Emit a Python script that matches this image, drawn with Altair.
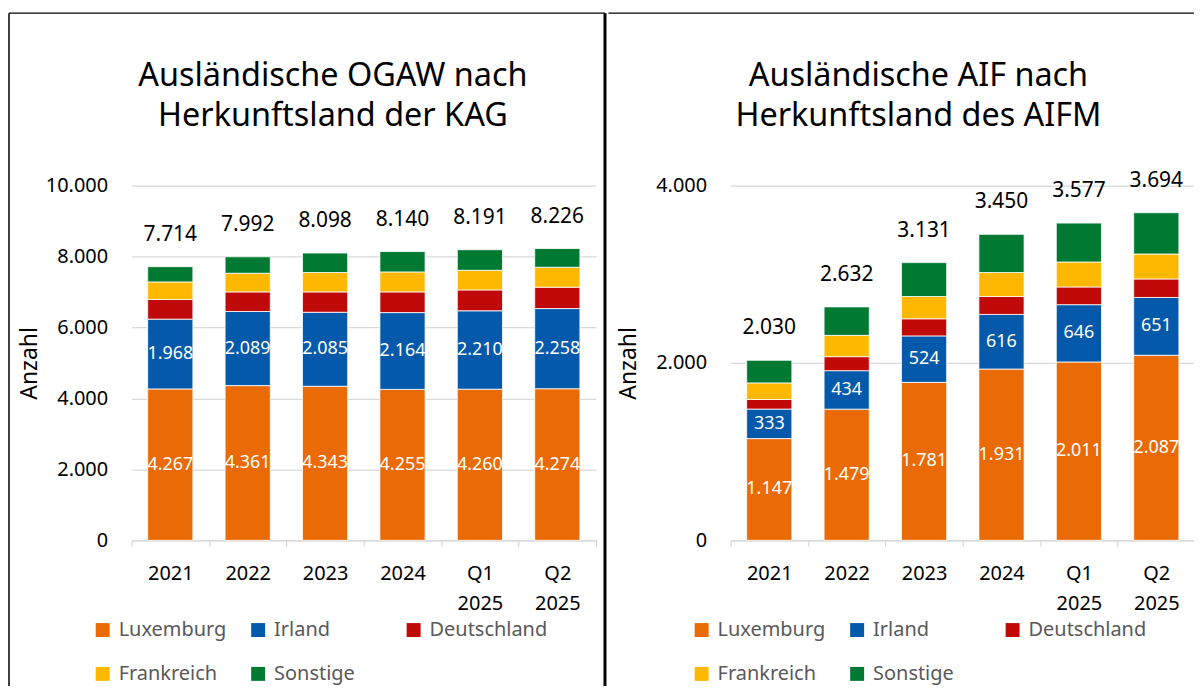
import altair as alt
import pandas as pd

cats = ["2021", "2022", "2023", "2024", "Q1 2025", "Q2 2025"]
series = ["Luxemburg", "Irland", "Deutschland", "Frankreich", "Sonstige"]
colors = ["#EA6A05", "#0459AA", "#C00A0A", "#FFB800", "#007A33"]

ogaw_luxemburg = [4267, 4361, 4343, 4255, 4260, 4274]
ogaw_irland = [1968, 2089, 2085, 2164, 2210, 2258]
ogaw_deutschland = [554, 553, 575, 584, 589, 603]
ogaw_frankreich = [495, 525, 545, 562, 553, 562]
ogaw_sonstige = [430, 464, 550, 575, 579, 529]

aif_luxemburg = [1147, 1479, 1781, 1931, 2011, 2087]
aif_irland = [333, 434, 524, 616, 646, 651]
aif_deutschland = [108, 158, 193, 202, 200, 209]
aif_frankreich = [187, 240, 251, 270, 281, 281]
aif_sonstige = [255, 321, 382, 431, 439, 466]

ogaw_ticks = [0, 2000, 4000, 6000, 8000, 10000]
aif_ticks = [0, 2000, 4000]
ogaw_title = ["Ausländische OGAW nach", "Herkunftsland der KAG"]
aif_title = ["Ausländische AIF nach", "Herkunftsland des AIFM"]
labelled = ["Luxemburg", "Irland"]


def long(cols):
    rows = []
    for si, (s, vals) in enumerate(zip(series, cols)):
        for c, v in zip(cats, vals):
            rows.append({"cat": c, "series": s, "idx": si, "value": v})
    return pd.DataFrame(rows)


ogaw_df = long([ogaw_luxemburg, ogaw_irland, ogaw_deutschland, ogaw_frankreich, ogaw_sonstige])
aif_df = long([aif_luxemburg, aif_irland, aif_deutschland, aif_frankreich, aif_sonstige])
dummy = pd.DataFrame({"k": [0]})

W, H = 466, 356


def xenc():
    return alt.X(
        "cat:N", sort=cats, title=None,
        scale=alt.Scale(paddingInner=0, paddingOuter=0),
        axis=alt.Axis(
            labelExpr="split(datum.label, ' ')", labelAngle=0, labelFontSize=20,
            labelColor="black", labelLineHeight=30, labelPadding=17,
            tickBand="extent", tickSize=6, tickColor="#D9D9D9", tickWidth=1.3,
            domainColor="#D9D9D9", domainWidth=1.3, grid=False,
        ),
    )


def panel(df, ticks, title_lines, title_x, left_panel):
    ymax = ticks[-1]
    yaxis = alt.Axis(
        values=ticks, format=",d", domain=False, ticks=False, labelPadding=24,
        labelFontSize=20, labelColor="black", gridColor="#D9D9D9", gridWidth=1.3,
        titleFontSize=23, titleFontWeight="normal", titleColor="black",
        titleX=-102, titleY=H / 2, titleAngle=270, titleBaseline="middle", titleAlign="center",
    )
    yscale = alt.Scale(domain=[0, ymax], nice=False)
    base = alt.Chart(df)
    bars = base.mark_bar(width={"band": 0.584}, stroke="white", strokeWidth=0.8).encode(
        x=xenc(),
        y=alt.Y("value:Q", stack="zero", scale=yscale, axis=yaxis, title="Anzahl"),
        color=alt.Color(
            "series:N", sort=series,
            scale=alt.Scale(domain=series, range=colors),
            legend=alt.Legend(
                title=None, orient="none", legendX=-39, legendY=436, columns=3,
                direction="horizontal",
                gridAlign="all", symbolType="square", symbolSize=196, symbolStrokeWidth=0,
                labelFontSize=20, labelColor="#595959", labelOffset=6,
                columnPadding=11, rowPadding=24, padding=0, labelLimit=300,
            ),
        ),
        order=alt.Order("idx:Q", sort="ascending"),
    )
    inner = base.transform_stack(
        stack="value", groupby=["cat"], as_=["v0", "v1"],
        sort=[alt.SortField("idx", order="ascending")],
    ).transform_filter(
        alt.FieldOneOfPredicate(field="series", oneOf=labelled)
    ).transform_calculate(
        mid="(datum.v0 + datum.v1) / 2"
    ).mark_text(color="white", fontSize=18, baseline="middle").encode(
        x=xenc(),
        y=alt.Y("mid:Q", scale=yscale, title="Anzahl"),
        text=alt.Text("value:Q", format=",d"),
    )
    totals = base.transform_aggregate(
        total="sum(value)", groupby=["cat"]
    ).mark_text(color="black", fontSize=21, baseline="middle", dy=-32).encode(
        x=xenc(),
        y=alt.Y("total:Q", scale=yscale, title="Anzahl"),
        text=alt.Text("total:Q", format=",d"),
    )
    title = alt.Chart(dummy).mark_text(
        text=title_lines, fontSize=32.5, lineHeight=40, baseline="alphabetic",
        align="center", color="black",
    ).encode(x=alt.value(title_x), y=alt.value(-100))

    layers = [bars, inner, totals, title]
    if left_panel:
        layers += [
            alt.Chart(dummy).mark_rule(color="black", strokeWidth=1.5).encode(
                x=alt.value(-123), y=alt.value(-173), y2=alt.value(520)),
            alt.Chart(dummy).mark_rule(color="black", strokeWidth=1.5).encode(
                x=alt.value(-123), x2=alt.value(475), y=alt.value(-173)),
            alt.Chart(dummy).mark_rule(color="black", strokeWidth=3).encode(
                x=alt.value(475), y=alt.value(-173), y2=alt.value(520)),
        ]
    else:
        layers += [
            alt.Chart(dummy).mark_rule(color="black", strokeWidth=1.5).encode(
                x=alt.value(-122.5), x2=alt.value(480), y=alt.value(-173)),
        ]
    return alt.layer(*layers).properties(width=W, height=H)


left = panel(ogaw_df, ogaw_ticks, ogaw_title, 202, True)
right = panel(aif_df, aif_ticks, aif_title, 188.5, False)

chart = alt.hconcat(left, right, spacing=0).resolve_scale(
    x="independent", y="independent", color="independent"
).resolve_legend(color="independent").properties(
    padding={"left": 0, "top": 2, "right": -16, "bottom": -21.5}
).configure(
    font="Noto Sans",
    locale={"number": {"decimal": ",", "thousands": ".", "grouping": [3], "currency": ["", " €"]}},
).configure_view(stroke=None)

chart.save("out.html", embed_options={"renderer": "svg", "actions": False})
